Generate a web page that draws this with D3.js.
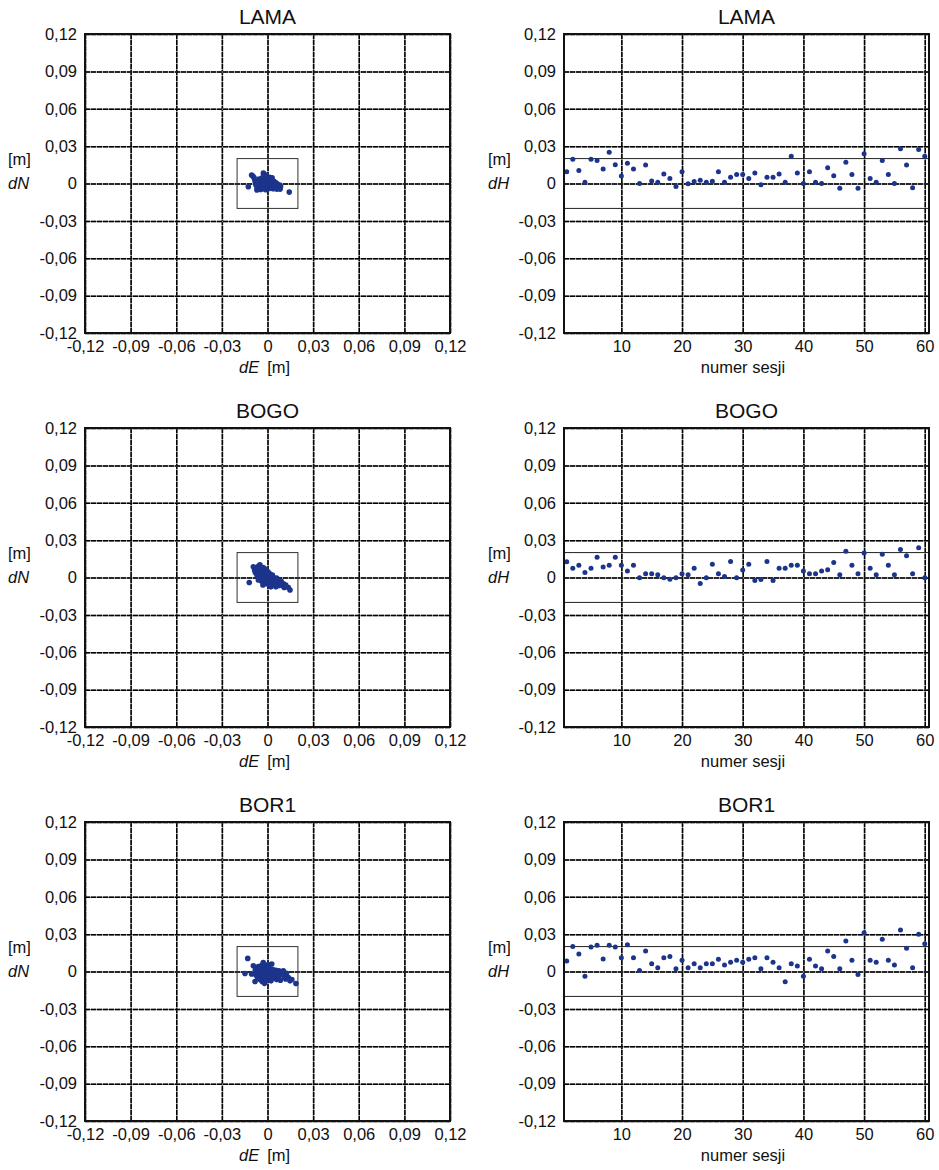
<!DOCTYPE html>
<html>
<head>
<meta charset="utf-8">
<script src="https://cdn.jsdelivr.net/npm/d3@7"></script>
<style>
  html, body { margin: 0; padding: 0; background: #fff; }
  svg { display: block; font-family: "Liberation Sans", Arial, sans-serif; }
</style>
</head>
<body>
<svg id="chart" width="939" height="1170"></svg>
<script>
// Stations shown, one per row
const stations = ["LAMA", "BOGO", "BOR1"];

// Tick values for the metre axes and the session axis
const metreTicks = [-0.12, -0.09, -0.06, -0.03, 0, 0.03, 0.06, 0.09, 0.12];
const sessionTicks = [10, 20, 30, 40, 50, 60];
const toleranceBox = 0.02;

// Session numbers 1..60
const sessions = d3.range(1, 61);

// Horizontal offsets [dE, dN] per session, in millimetres
const lamaEN = [[-12.6,-2.6],[-10.4,6.7],[-9.5,5.8],[-8.8,4.5],[-8.2,2.0],[-7.5,-1.5],[-7.0,-5.2],[-6.5,-3.8],[-6.0,1.2],[-5.5,3.5],
  [-5.2,-2.5],[-4.8,0.5],[-4.5,-4.8],[-4.0,2.8],[-3.8,-1.0],[-3.5,4.5],[-3.2,-3.2],[-3.0,0.0],[-2.7,8.3],[-2.5,1.8],
  [-2.2,-2.0],[-2.0,5.5],[-1.8,-4.5],[-1.5,0.8],[-1.2,3.0],[-1.0,-1.5],[-0.8,6.8],[-0.5,-3.0],[-0.3,1.5],[0.0,-0.5],
  [0.2,4.0],[0.5,-2.2],[0.8,2.2],[1.0,-4.0],[1.2,0.3],[1.5,5.0],[1.8,-1.2],[2.0,3.2],[2.3,-3.5],[2.5,1.0],
  [2.8,-0.8],[3.0,4.5],[3.2,-2.5],[3.5,0.5],[3.8,-4.2],[4.0,2.0],[4.5,-1.5],[5.0,-3.0],[5.3,0.8],[5.8,-2.0],
  [6.2,-4.5],[6.5,-0.5],[7.0,-2.8],[7.5,-3.8],[8.0,-1.2],[8.3,-4.5],[8.6,-2.5],[-6.8,-4.0],[-1.0,-5.0],[14.3,-6.9]];
const bogoEN = [[-12,-4],[-9.3,8.6],[-8.5,6],[-8,4],[-7.5,7.5],[-7,2],[-6.5,5],[-6,9],[-5.5,-1],[-5,10.2],
  [-4.8,3],[-4.5,6.5],[-4,0.5],[-3.8,-3],[-3.5,4.5],[-3,-1.5],[-2.8,8],[-2.5,1.5],[-2.2,-4.5],[-2,5.5],
  [-1.8,-0.5],[-1.5,3],[-1.2,-2.5],[-1,6.5],[-0.8,1],[-0.5,-5],[-0.2,2],[0,-2],[0.3,4.5],[0.5,-0.5],
  [0.8,-3.5],[1,1.5],[1.2,-6],[1.5,3],[1.8,-2],[2,0.5],[2.5,-4.5],[3,-1],[3.2,2],[3.5,-3],
  [4,0],[4.5,-5.5],[5,-2],[5.5,-4],[6,-0.5],[6.5,-5.5],[7,-2.5],[7.5,-6.5],[8.2,-4.5],[9,-3],
  [9.5,-6.5],[10.5,-5],[11,-8],[12,-6],[13.7,-8],[14.8,-10],[-6,-2],[-3,-6],[2.2,-7.5],[5.5,-7.5]];
const bor1EN = [[-13,10.5],[-14.8,-1.6],[-9.3,4.6],[-8.2,-8],[-8,1],[-7.5,-3],[-7,2.5],[-6.5,-5],[-6,4],[-5.5,-1],
  [-5,-6.5],[-4.5,1.5],[-4,-3.5],[-3.8,5],[-3.5,-8],[-3,0],[-2.8,7.2],[-2.5,-2],[-2.2,3],[-2,-5.5],
  [-1.8,1],[-1.5,-3.5],[-1.2,4.5],[-1,-7],[-0.8,-1],[-0.5,2],[-0.2,-4.5],[0,0.5],[0.2,-2.5],[0.5,5.5],
  [0.8,-6],[1,-1],[1.3,2.5],[1.6,-4],[2,0],[2.3,-7.5],[2.8,6],[3,-2.5],[3.5,1.5],[4,-5],
  [4.5,-1],[5,-3.5],[5.5,1],[6,-6.5],[6.5,-2],[7,-4.5],[7.5,0.5],[8,-3],[8.5,-7],[9.5,-2],
  [10.4,0.5],[11,-4],[12,-6],[12.5,-1.5],[13.7,-4.8],[14.8,-7.5],[16,-6.5],[18.7,-9.6],[-10.5,-2],[-2,-9.5]];

// Height offsets dH per session, in millimetres
const lamaDH = [9.5,19.5,10.5,1.0,19.5,18.4,11.6,25.1,15.1,6.0,16.2,11.6,0.0,14.9,2.0,1.0,7.6,4.0,-2.4,9.5,
  -0.3,1.6,2.7,1.0,1.9,9.5,1.0,5.1,7.3,7.3,4.0,8.4,-1.0,5.1,5.1,7.6,1.0,21.9,8.4,0.0,
  9.5,1.0,0.0,12.7,6.2,-3.8,17.0,7.3,-3.8,23.8,4.0,1.0,18.4,7.3,0.0,27.8,14.9,-3.5,27.3,21.9];
const bogoDH = [12.6,7.4,9.9,4.1,7.4,16.2,8.5,9.9,16.2,9.9,5.2,9.9,-0.3,3.0,3.0,2.2,-0.3,-1.4,-0.3,3.0,
  2.2,7.4,-4.9,-0.3,10.7,3.0,0.8,12.9,-0.3,6.0,10.7,-2.5,-1.6,12.9,-2.5,7.4,7.4,9.9,9.9,5.2,
  3.0,3.0,5.2,6.3,12.0,2.2,21.1,9.9,3.0,19.7,7.4,2.2,18.6,9.9,2.2,22.5,17.5,3.0,23.8,-0.3];
const bor1DH = [8.5,20.0,14.0,-3.8,19.7,21.1,10.1,21.1,19.7,11.0,21.4,11.0,0.8,16.4,6.3,3.0,11.0,12.0,2.2,9.0,
  3.0,6.3,3.0,6.3,6.3,9.9,5.2,7.4,9.0,7.4,9.9,11.0,2.2,11.0,7.4,3.0,-8.2,6.3,4.4,-3.8,
  9.9,4.4,2.2,16.4,12.0,2.2,24.4,9.0,-2.5,31.2,9.0,7.4,25.8,9.0,5.2,33.4,18.6,3.0,29.9,22.2];

const horizontal = [lamaEN, bogoEN, bor1EN];
const vertical = [lamaDH, bogoDH, bor1DH];

// Layout
const rowTops = [34, 428, 822];
const plotH = 299;
const leftX = [85, 450];
const rightX = [564, 929];
const dotColor = "#1c348c";
const inkColor = "#111";
const labelSize = 16.5;

const fmtMetre = v => Math.abs(v) < 1e-9 ? "0" : d3.format(".2f")(v).replace(".", ",").replace("\u2212", "-");

const svg = d3.select("#chart");
svg.append("rect").attr("width", 939).attr("height", 1170).attr("fill", "#fff");

function gridLayer(g, axis) {
  // grey underlay plus dark dashes gives the dotted look of the grid
  const base = g.append("g").call(axis);
  base.select(".domain").remove();
  base.selectAll("line").attr("stroke", "#8a8a8a").attr("stroke-width", 1.5);
  const top = g.append("g").call(axis);
  top.select(".domain").remove();
  top.selectAll("line").attr("stroke", "#000").attr("stroke-width", 1.5).attr("stroke-dasharray", "5,1");
}

function styleLabels(sel) {
  sel.select(".domain").remove();
  sel.selectAll("text").attr("font-size", labelSize).attr("fill", inkColor)
    .attr("font-family", "'Liberation Sans', Arial, sans-serif");
}

stations.forEach((name, r) => {
  const row = svg.append("g").attr("transform", `translate(0,${rowTops[r]})`);
  const y = d3.scaleLinear().domain([-0.12, 0.12]).range([plotH, 0]);

  // ---------- dE / dN panel ----------
  const xE = d3.scaleLinear().domain([-0.12, 0.12]).range(leftX);
  const pL = row.append("g");
  const wL = leftX[1] - leftX[0];

  const vGrid = pL.append("g").attr("transform", `translate(0,${plotH})`);
  gridLayer(vGrid, d3.axisBottom(xE).tickValues(metreTicks).tickSize(-plotH).tickFormat(""));
  const hGrid = pL.append("g").attr("transform", `translate(${leftX[0]},0)`);
  gridLayer(hGrid, d3.axisLeft(y).tickValues(metreTicks).tickSize(-wL).tickFormat(""));

  // tolerance box of +-2 cm
  pL.append("rect")
    .attr("x", xE(-toleranceBox)).attr("y", y(toleranceBox))
    .attr("width", xE(toleranceBox) - xE(-toleranceBox))
    .attr("height", y(-toleranceBox) - y(toleranceBox))
    .attr("fill", "none").attr("stroke", "#333").attr("stroke-width", 1);

  pL.append("g").selectAll("circle").data(horizontal[r]).join("circle")
    .attr("cx", d => xE(d[0] / 1000)).attr("cy", d => y(d[1] / 1000))
    .attr("r", 2.8).attr("fill", dotColor);

  pL.append("rect").attr("x", leftX[0]).attr("y", 0).attr("width", wL).attr("height", plotH)
    .attr("fill", "none").attr("stroke", inkColor).attr("stroke-width", 2);

  const xAxL = pL.append("g").attr("transform", `translate(0,${plotH})`)
    .call(d3.axisBottom(xE).tickValues(metreTicks).tickSize(0).tickPadding(7).tickFormat(fmtMetre));
  styleLabels(xAxL);
  const yAxL = pL.append("g").attr("transform", `translate(${leftX[0]},0)`)
    .call(d3.axisLeft(y).tickValues(metreTicks).tickSize(0).tickPadding(8).tickFormat(fmtMetre));
  styleLabels(yAxL);

  pL.append("text").attr("x", (leftX[0] + leftX[1]) / 2).attr("y", -10.5)
    .attr("text-anchor", "middle").attr("font-size", 21).attr("fill", inkColor).text(name);

  const xl = pL.append("text").attr("x", 239).attr("y", plotH + 40).attr("font-size", labelSize).attr("fill", inkColor);
  xl.append("tspan").attr("font-style", "italic").text("dE");
  xl.append("tspan").attr("dx", 8).text("[m]");

  pL.append("text").attr("x", 8).attr("y", 131).attr("font-size", labelSize).attr("fill", inkColor).text("[m]");
  pL.append("text").attr("x", 8).attr("y", 155).attr("font-size", labelSize).attr("font-style", "italic")
    .attr("fill", inkColor).text("dN");

  // ---------- session / dH panel ----------
  const xS = d3.scaleLinear().domain([0.55, 60.7]).range(rightX);
  const pR = row.append("g");
  const wR = rightX[1] - rightX[0];

  const vGridR = pR.append("g").attr("transform", `translate(0,${plotH})`);
  gridLayer(vGridR, d3.axisBottom(xS).tickValues(sessionTicks).tickSize(-plotH).tickFormat(""));
  const hGridR = pR.append("g").attr("transform", `translate(${rightX[0]},0)`);
  gridLayer(hGridR, d3.axisLeft(y).tickValues(metreTicks).tickSize(-wR).tickFormat(""));

  // +-2 cm limits
  pR.append("g").selectAll("line").data([toleranceBox, -toleranceBox]).join("line")
    .attr("x1", rightX[0]).attr("x2", rightX[1])
    .attr("y1", d => y(d)).attr("y2", d => y(d))
    .attr("stroke", "#222").attr("stroke-width", 1);

  pR.append("g").selectAll("circle").data(vertical[r]).join("circle")
    .attr("cx", (d, i) => xS(sessions[i])).attr("cy", d => y(d / 1000))
    .attr("r", 2.5).attr("fill", dotColor);

  pR.append("rect").attr("x", rightX[0]).attr("y", 0).attr("width", wR).attr("height", plotH)
    .attr("fill", "none").attr("stroke", inkColor).attr("stroke-width", 2);

  const xAxR = pR.append("g").attr("transform", `translate(0,${plotH})`)
    .call(d3.axisBottom(xS).tickValues(sessionTicks).tickSize(0).tickPadding(7));
  styleLabels(xAxR);
  const yAxR = pR.append("g").attr("transform", `translate(${rightX[0]},0)`)
    .call(d3.axisLeft(y).tickValues(metreTicks).tickSize(0).tickPadding(8).tickFormat(fmtMetre));
  styleLabels(yAxR);

  pR.append("text").attr("x", (rightX[0] + rightX[1]) / 2).attr("y", -10.5)
    .attr("text-anchor", "middle").attr("font-size", 21).attr("fill", inkColor).text(name);

  pR.append("text").attr("x", 743).attr("y", plotH + 40).attr("text-anchor", "middle")
    .attr("font-size", labelSize).attr("fill", inkColor).text("numer sesji");

  pR.append("text").attr("x", 488).attr("y", 131).attr("font-size", labelSize).attr("fill", inkColor).text("[m]");
  pR.append("text").attr("x", 488).attr("y", 155).attr("font-size", labelSize).attr("font-style", "italic")
    .attr("fill", inkColor).text("dH");
});
</script>
</body>
</html>
